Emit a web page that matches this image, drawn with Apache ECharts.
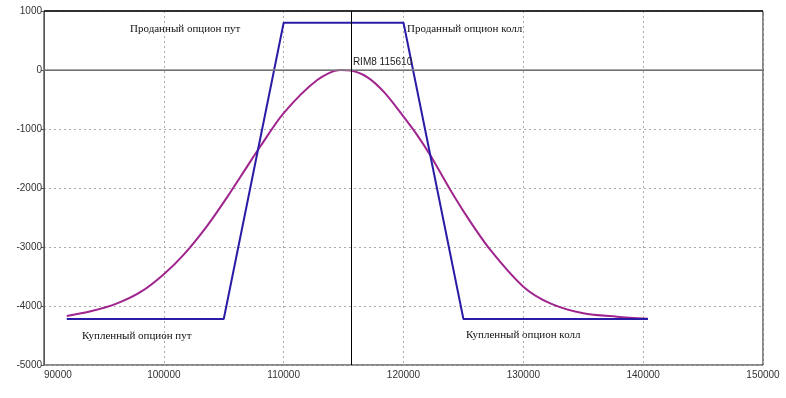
<!DOCTYPE html>
<html>
<head>
<meta charset="utf-8">
<script src="https://cdn.jsdelivr.net/npm/echarts@6/dist/echarts.min.js"></script>
<style>
  html, body { margin: 0; padding: 0; background: #fff; }
  #chart { width: 786px; height: 398px; }
</style>
</head>
<body>
<div id="chart"></div>
<script>
// профиль выплат (синяя линия)
var payoffX = [91900, 105000, 110000, 120000, 125000, 140400]
var payoffY = [-4220, -4220, 800, 800, -4220, -4220]

// кривая (фиолетовая)
var curveX = [91900, 93900, 96100, 98100, 100000, 101700, 103600, 105300, 107000, 108100, 110000, 112800, 114750, 115600, 117000, 118400, 120000, 121100, 122250, 123900, 125300, 127250, 130000, 132250, 135000, 137800, 140400]
var curveY = [-4170, -4090, -3955, -3757, -3460, -3120, -2645, -2150, -1620, -1280, -730, -170, 0, -10, -125, -380, -790, -1090, -1450, -2030, -2486, -3050, -3672, -3955, -4124, -4181, -4215]

var priceMark = 115610
var priceLabel = 'RIM8 115610'

var labelsText = ['Проданный опцион пут', 'Проданный опцион колл', 'Купленный опцион пут', 'Купленный опцион колл']

function zip (xs, ys) {
  return xs.map(function (x, i) { return [x, ys[i]] })
}

var myChart = echarts.init(document.getElementById('chart'))

var serifText = {
  fontFamily: 'Liberation Serif',
  fontSize: 11,
  fill: '#111'
}

var option = {
  animation: false,
  grid: {
    left: 44,
    top: 11,
    right: 23,
    bottom: 33,
    show: true,
    borderColor: '#111',
    borderWidth: 1,
    backgroundColor: '#fff'
  },
  xAxis: {
    type: 'value',
    min: 90000,
    max: 150000,
    interval: 10000,
    axisLine: { show: true, lineStyle: { color: '#333', width: 1 } },
    axisTick: { show: false },
    axisLabel: {
      color: '#333',
      fontSize: 10,
      fontFamily: 'Liberation Sans',
      margin: 5,
      alignMinLabel: 'left',
      formatter: function (v) { return String(v) }
    },
    splitLine: { show: true, lineStyle: { color: '#aaa', type: [2, 3] } }
  },
  yAxis: {
    type: 'value',
    min: -5000,
    max: 1000,
    interval: 1000,
    axisLine: { show: true, lineStyle: { color: '#555', width: 1 } },
    axisTick: { show: true, length: 3, lineStyle: { color: '#555' } },
    axisLabel: {
      color: '#333',
      fontSize: 10,
      fontFamily: 'Liberation Sans',
      margin: 2,
      formatter: function (v) { return String(v) }
    },
    splitLine: { show: true, lineStyle: { color: '#aaa', type: [2, 3] } }
  },
  series: [
    {
      type: 'line',
      data: zip(curveX, curveY),
      smooth: 0.3,
      symbol: 'none',
      lineStyle: { color: '#a0248e', width: 2 },
      z: 3,
      markLine: {
        silent: true,
        symbol: 'none',
        label: { show: false },
        data: [
          { yAxis: 0, lineStyle: { color: '#888', width: 1.5, type: 'solid' } },
          { yAxis: 1000, lineStyle: { color: '#111', width: 1.5, type: 'solid' } },
          { xAxis: priceMark, lineStyle: { color: '#000', width: 1, type: 'solid' } }
        ]
      },
      markPoint: {
        silent: true,
        symbol: 'circle',
        symbolSize: 0,
        data: [{ coord: [priceMark, 0] }],
        label: {
          show: true,
          position: 'right',
          distance: 2,
          offset: [0, -8],
          formatter: priceLabel,
          color: '#222',
          fontSize: 10,
          fontFamily: 'Liberation Sans'
        }
      }
    },
    {
      type: 'line',
      data: zip(payoffX, payoffY),
      symbol: 'none',
      lineStyle: { color: '#2a1ca6', width: 2 },
      z: 4
    }
  ],
  graphic: [
    { type: 'text', left: 130, top: 24, style: Object.assign({ text: labelsText[0] }, serifText) },
    { type: 'text', left: 407, top: 24, style: Object.assign({ text: labelsText[1] }, serifText) },
    { type: 'text', left: 82, top: 331, style: Object.assign({ text: labelsText[2] }, serifText) },
    { type: 'text', left: 466, top: 330, style: Object.assign({ text: labelsText[3] }, serifText) }
  ]
}

myChart.setOption(option)
</script>
</body>
</html>
